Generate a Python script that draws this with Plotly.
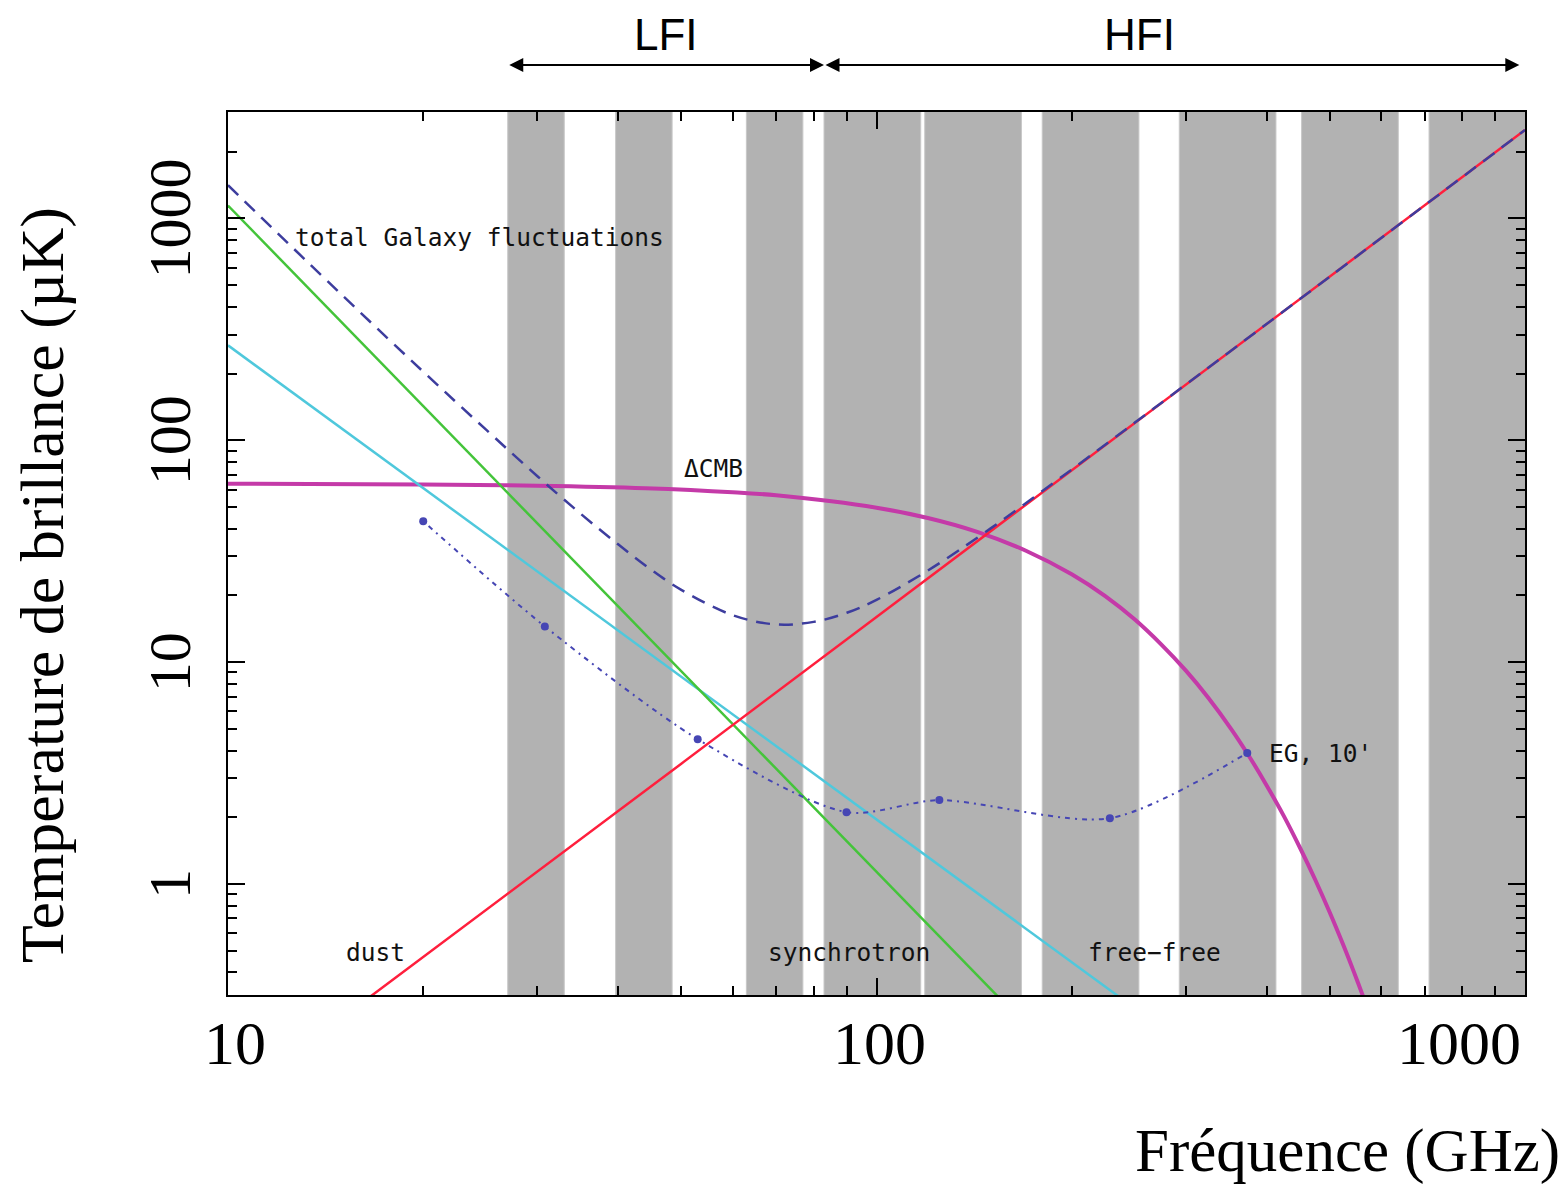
import numpy as np
import plotly.graph_objects as go

# ---------------- data ----------------
# Planck frequency bands (GHz) and fractional half-widths
band_centers = [30, 44, 70, 100, 143, 217, 353, 545, 857]
band_halfwidth = [0.10, 0.10, 0.10, 0.17, 0.17, 0.17, 0.17, 0.17, 0.17]

# instrument ranges (GHz)
lfi_range = [27, 83]
hfi_range = [83, 980]

# dust (red)
freq_dust = [15, 16.7, 30, 50, 100, 200, 500, 1000]
dust = [0.25, 0.316, 1.14, 3.49, 16.0, 73.3, 547, 2506]

# synchrotron (green)
freq_sync = [10, 20, 30, 50, 100, 160]
sync = [1144, 142.5, 42.2, 9.12, 1.136, 0.277]

# free-free (cyan)
freq_ff = [10, 20, 30, 50, 100, 200, 250]
freefree = [268, 61.0, 25.6, 8.62, 1.96, 0.446, 0.276]

# total Galaxy fluctuations (dashed)
freq_tot = [10, 15, 20, 25, 30, 35, 40, 45, 50, 60, 70, 80, 90, 100, 120, 150,
            200, 250, 300, 500, 1000]
total = [1412, 451, 204, 111.7, 68.9, 46.6, 33.9, 26.05, 21.2, 16.3, 14.8, 15.2,
         16.7, 19.1, 25.9, 40.1, 73.9, 119.9, 178.6, 547, 2506]

# Delta CMB (magenta)
freq_cmb = [10, 20, 30, 44, 60, 70, 100, 120, 143, 170, 200, 225, 250, 275, 300,
            325, 353, 375, 400, 425, 450, 475, 500, 525, 545, 560, 580, 600]
cmb = [63.8, 63.3, 62.5, 60.9, 58.4, 56.5, 49.7, 44.7, 38.7, 31.8, 24.9, 19.9,
       15.6, 12.0, 9.16, 6.90, 4.96, 3.79, 2.77, 2.02, 1.454, 1.043, 0.744, 0.528,
       0.400, 0.324, 0.245, 0.184]

# extragalactic sources, 10' (dotted with points)
freq_eg = [20.0, 30.8, 53.0, 89.9, 125, 229, 373]
eg = [43.2, 14.5, 4.50, 2.11, 2.39, 1.98, 3.90]

x_ticks = [10, 100, 1000]
y_ticks = [1, 10, 100, 1000]
x_minor = [20, 30, 40, 50, 60, 70, 80, 90, 200, 300, 400, 500, 600, 700, 800, 900]
y_minor = [0.4, 0.5, 0.6, 0.7, 0.8, 0.9, 2, 3, 4, 5, 6, 7, 8, 9,
           20, 30, 40, 50, 60, 70, 80, 90, 200, 300, 400, 500, 600, 700, 800, 900,
           2000, 3000]

# ---------------- colours / fonts ----------------
BAND = "#b2b2b2"
RED = "#ff1f3d"
GREEN = "#44c43a"
CYAN = "#4fc8dc"
NAVY = "#3d3d9e"
MAGENTA = "#c43aa8"
EGC = "#4646b4"
SERIF = "Liberation Serif"
SANS = "Liberation Sans"
IDL = "DejaVu Sans Mono"

fig = go.Figure()

# gray bands
for c, w in zip(band_centers, band_halfwidth):
    lo, hi = c * (1 - w), c * (1 + w)
    fig.add_trace(go.Scatter(
        x=[lo, hi, hi, lo, lo], y=[0.01, 0.01, 1e5, 1e5, 0.01],
        mode="lines", fill="toself", fillcolor=BAND,
        line=dict(width=1, color="#c8c8c8"), hoverinfo="skip", showlegend=False))

fig.add_trace(go.Scatter(x=freq_cmb, y=cmb, mode="lines", line=dict(color=MAGENTA, width=4, shape="spline"),
                         showlegend=False, name="ΔCMB"))
fig.add_trace(go.Scatter(x=freq_ff, y=freefree, mode="lines", line=dict(color=CYAN, width=2.5),
                         showlegend=False, name="free-free"))
fig.add_trace(go.Scatter(x=freq_sync, y=sync, mode="lines", line=dict(color=GREEN, width=2.5),
                         showlegend=False, name="synchrotron"))
fig.add_trace(go.Scatter(x=freq_dust, y=dust, mode="lines", line=dict(color=RED, width=2.5),
                         showlegend=False, name="dust"))
fig.add_trace(go.Scatter(x=freq_tot, y=total, mode="lines",
                         line=dict(color=NAVY, width=2.5, dash="14px,9px", shape="spline"),
                         showlegend=False, name="total"))
fig.add_trace(go.Scatter(x=freq_eg, y=eg, mode="lines+markers",
                         line=dict(color=EGC, width=2, dash="2px,5px,5px,5px", shape="spline", smoothing=0.8),
                         marker=dict(color=EGC, size=8), showlegend=False, name="EG"))

lg = np.log10
ann = []
# in-plot labels
labels = [("total Galaxy fluctuations", 12.6, 820), ("ΔCMB", 50.1, 74.8),
          ("dust", 15.1, 0.494), ("synchrotron", 67.5, 0.494),
          ("free−free", 210.7, 0.494), ("EG, 10'", 400, 3.89)]
for t, fx, fy in labels:
    ann.append(dict(text=t, x=lg(fx), y=lg(fy), xref="x", yref="y", showarrow=False,
                    xanchor="left", yanchor="middle", font=dict(family=IDL, size=24.5, color="#111")))

# x tick labels
for v, xa, xs in zip(x_ticks, ["center", "center", "right"], [7, 3, -2]):
    ann.append(dict(text=str(v), x=lg(v), y=-0.054, xref="x", yref="paper", showarrow=False,
                    xanchor=xa, yanchor="middle", xshift=xs,
                    font=dict(family=SERIF, size=62, color="black")))
# y tick labels (rotated)
for v in y_ticks:
    ann.append(dict(text=str(v), x=-0.0447, y=lg(v), xref="paper", yref="y", showarrow=False,
                    textangle=-90, xanchor="center", yanchor="middle",
                    font=dict(family=SERIF, size=60, color="black")))
# axis titles
ann.append(dict(text="Temperature de brillance (µK)", x=-0.1434, y=0.4643, xref="paper", yref="paper",
                showarrow=False, textangle=-90, xanchor="center", yanchor="middle",
                font=dict(family=SERIF, size=62, color="black")))
ann.append(dict(text="Fréquence (GHz)", x=1.0285, y=-0.1765, xref="paper", yref="paper",
                showarrow=False, xanchor="right", yanchor="middle",
                font=dict(family=SERIF, size=61, color="black")))

# LFI / HFI arrows and labels
for rng, name, tx in [(lfi_range, "LFI", 47.3), (hfi_range, "HFI", 254)]:
    ann.append(dict(text="", x=lg(rng[1]), y=1.0532, xref="x", yref="paper",
                    ax=lg(rng[0]), ay=0, axref="x", ayref="pixel",
                    showarrow=True, arrowside="end+start", arrowhead=2, arrowsize=1.4,
                    arrowwidth=2, arrowcolor="black", standoff=0, startstandoff=0))
    ann.append(dict(text=name, x=lg(tx), y=1.0875, xref="x", yref="paper", showarrow=False,
                    xanchor="center", yanchor="middle", font=dict(family=SANS, size=44, color="black")))

axis_common = dict(type="log", showline=True, linecolor="black", linewidth=2, mirror="allticks",
                   ticks="inside", ticklen=17, tickwidth=2, tickcolor="black",
                   showticklabels=False, showgrid=False, zeroline=False)

# page body has an 8px margin, so the figure is 8px smaller than the window
fig.update_layout(
    width=1559, height=1179,
    margin=dict(l=220, r=42, t=104, b=192),
    paper_bgcolor="white", plot_bgcolor="white",
    xaxis=dict(range=[1, 3], tickvals=x_ticks,
               minor=dict(tickvals=x_minor, ticks="inside", ticklen=9, tickwidth=1.5,
                          tickcolor="black", showgrid=False),
               **axis_common),
    yaxis=dict(range=[-0.5, 3.48], tickvals=y_ticks,
               minor=dict(tickvals=y_minor, ticks="inside", ticklen=9, tickwidth=1.5,
                          tickcolor="black", showgrid=False),
               **axis_common),
    annotations=ann,
    showlegend=False,
)

fig.write_html("out.html")
